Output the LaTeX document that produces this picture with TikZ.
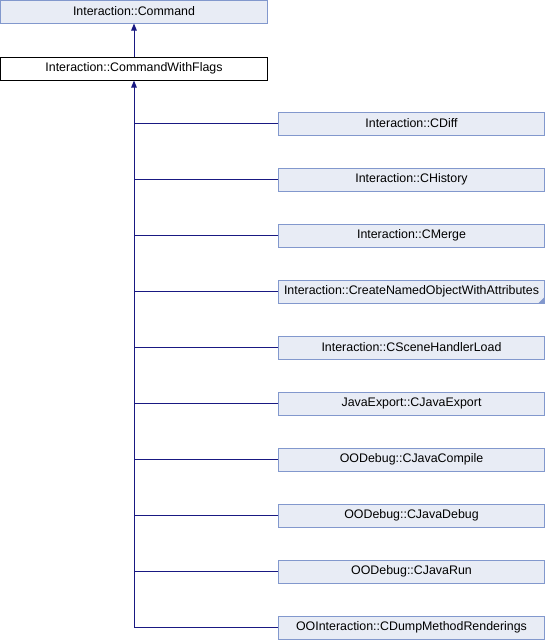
\documentclass[tikz,border=0pt]{standalone}
\usepackage{fontspec}
\setmainfont{Liberation Sans}
\usetikzlibrary{arrows.meta}
\definecolor{edgeblue}{RGB}{25,25,130}
\definecolor{boxfill}{RGB}{232,236,245}
\definecolor{boxline}{RGB}{130,152,205}
\tikzset{
  cls/.style={draw=boxline, fill=boxfill, line width=1pt, minimum height=23pt, inner sep=0pt, font=\fontsize{12.4}{14}\selectfont, anchor=center},
  basecls/.style={cls, draw=black, fill=white},
  edge/.style={draw=edgeblue, line width=1pt},
  inh/.style={edge, -{Triangle[length=7pt,width=5.5pt]}},
}
\begin{document}
\begin{tikzpicture}[x=1pt,y=1pt]
\useasboundingbox (0,0) rectangle (546,-640);
\node[cls, minimum width=267pt] (cmd) at (134,-11.5) {Interaction::Command};
\node[basecls, minimum width=267pt] (cwf) at (134,-68.5) {Interaction::CommandWithFlags};
\draw[inh] (cwf.north) -- (cmd.south);
\foreach \n/\t [count=\i from 0] in {
  cdiff/Interaction::CDiff,
  chist/Interaction::CHistory,
  cmerge/Interaction::CMerge,
  cnamed/Interaction::CreateNamedObjectWithAttributes,
  cscene/Interaction::CSceneHandlerLoad,
  cjexp/JavaExport::CJavaExport,
  cjcomp/OODebug::CJavaCompile,
  cjdbg/OODebug::CJavaDebug,
  cjrun/OODebug::CJavaRun,
  cdump/OOInteraction::CDumpMethodRenderings} {
  \node[cls, minimum width=266pt] (\n) at (411.5,{-123.5-56*\i}) {\t};
}
\draw[inh] (cdump.west) -| (cwf.south);
\foreach \n in {cdiff,chist,cmerge,cnamed,cscene,cjexp,cjcomp,cjdbg,cjrun}
  \draw[edge] (\n.west) -- (\n.west -| cwf.south);
\fill[boxline] (cnamed.south east) ++(-0.5,0.5) -- ++(0,6) -- ++(-6,-6) -- cycle;
\end{tikzpicture}
\end{document}
